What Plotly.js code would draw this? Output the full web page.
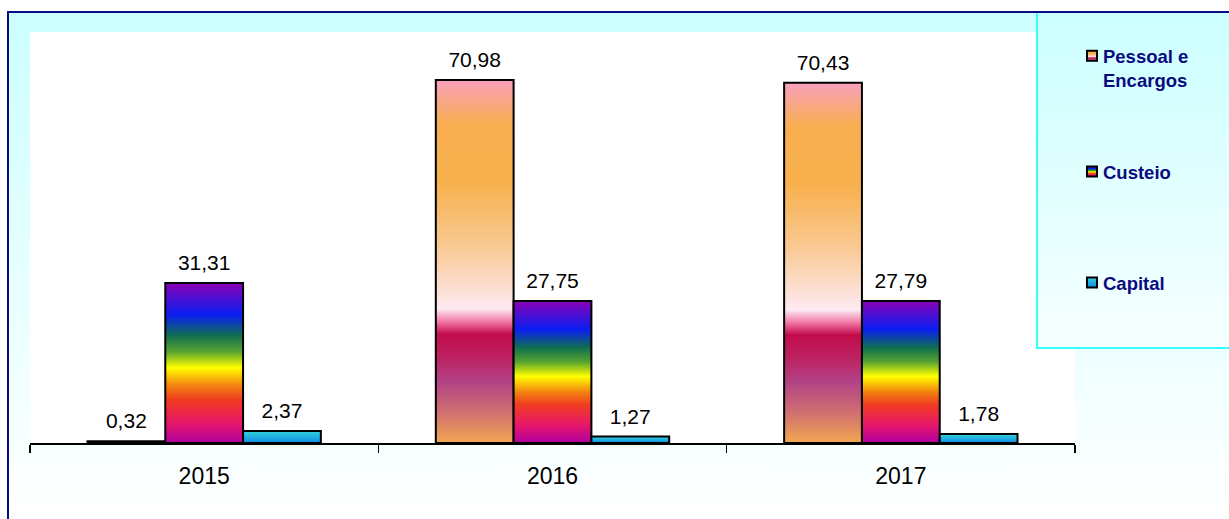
<!DOCTYPE html>
<html><head><meta charset="utf-8">
<script src="https://cdn.plot.ly/plotly-3.0.1.min.js"></script>
<style>
html,body{margin:0;padding:0;background:#fff;width:1229px;height:519px;overflow:hidden;}
#bg{position:absolute;left:8px;top:12px;width:1221px;height:507px;background:linear-gradient(#CCFFFF,#FFFFFF);}
#chart{position:absolute;left:0;top:0;width:1229px;height:519px;}
#frame{position:absolute;left:7px;top:11px;width:1230px;height:520px;border-left:2px solid #0A0A80;border-top:2px solid #0A0A80;pointer-events:none;z-index:10;}
</style></head>
<body>
<div id="bg"></div>
<div id="chart"></div>
<div id="frame"></div>
<script>
// ---- data ----
const years = ['2015', '2016', '2017'];
const seriesNames = ['Pessoal e<br>Encargos', 'Custeio', 'Capital'];
const pessoal = [0.32, 70.98, 70.43];
const custeio = [31.31, 27.75, 27.79];
const capital = [2.37, 1.27, 1.78];

// ---- styles ----
const FONT = 'Arial, "Liberation Sans", sans-serif';
const gradients = {
  'g-pessoal': [[0,'#F9A0BC'],[0.12,'#F8AE50'],[0.28,'#F8B04C'],[0.45,'#F9C890'],[0.56,'#FCDCCA'],[0.63,'#FDEAF2'],[0.665,'#F27AA8'],[0.70,'#C20C4C'],[0.76,'#BE2060'],[0.83,'#B24286'],[0.92,'#D27270'],[1,'#F2A850']],
  'g-custeio': [[0,'#8A00B4'],[0.2,'#0A1EF2'],[0.33,'#107050'],[0.43,'#58A430'],[0.53,'#FFFF00'],[0.64,'#F28410'],[0.73,'#F03C20'],[0.87,'#E81868'],[1,'#B000A0']],
  'g-capital': [[0,'#30D6DC'],[1,'#1088E4']],
  'g-legend': [[0,'#CCFFFF'],[1,'#F6FFFF']]
};
const traceGrad = ['g-pessoal', 'g-custeio', 'g-capital'];
const flatColors = ['#F8B048', '#F0C000', '#20B0E0'];
const seriesValues = [pessoal, custeio, capital];
const legendIds = ['legend', 'legend2', 'legend3'];

const traces = seriesValues.map((vals, i) => ({
  type: 'bar', name: seriesNames[i], x: years, y: vals,
  marker: {color: flatColors[i], line: {color: '#000', width: 2}},
  texttemplate: '%{y:.2f}', textposition: 'outside',
  textfont: {size: 21, color: '#000', family: FONT},
  cliponaxis: false, hoverinfo: 'skip', legend: legendIds[i], showlegend: true
}));

const legBase = {visible: true, x: 0.9885, xanchor: 'left', yanchor: 'middle', bgcolor: 'rgba(0,0,0,0)', borderwidth: 0,
  font: {size: 18.5, color: '#0A0A80', family: FONT, weight: 'bold'}, valign: 'top'};

const layout = {
  width: 1229, height: 519,
  showlegend: true,
  margin: {l: 30, r: 154, t: 32, b: 76, pad: 0},
  paper_bgcolor: 'rgba(0,0,0,0)', plot_bgcolor: '#FFFFFF',
  separators: ',.',
  barmode: 'group', bargap: 0.33, bargroupgap: 0,
  font: {family: FONT, color: '#000'},
  xaxis: {type: 'category', tickson: 'boundaries', ticks: 'outside', ticklen: 8, tickwidth: 1.5, tickcolor: '#000',
    showline: true, linecolor: '#000', linewidth: 2, showgrid: false, zeroline: false,
    tickfont: {size: 23, color: '#000', family: FONT}, ticklabelstandoff: 11, fixedrange: true},
  yaxis: {range: [0, 80.37], visible: false, fixedrange: true},
  legend: Object.assign({}, legBase, {y: 0.912}),
  legend2: Object.assign({}, legBase, {y: 0.6594}),
  legend3: Object.assign({}, legBase, {y: 0.3893}),
  shapes: [{type: 'rect', xref: 'paper', yref: 'paper', x0: 0.9636, x1: 1.3, y0: 0.2311, y1: 1.0487,
    line: {color: '#33FFFF', width: 2}, fillcolor: '#E4FFFF', layer: 'above'}]
};

const gd = document.getElementById('chart');
const SVGNS = 'http://www.w3.org/2000/svg';

function ensureGradients() {
  if (document.getElementById('g-pessoal')) return;
  const svg = gd.querySelector('svg.main-svg');
  let defs = svg.querySelector('defs');
  if (!defs) { defs = document.createElementNS(SVGNS, 'defs'); svg.insertBefore(defs, svg.firstChild); }
  Object.keys(gradients).forEach(id => {
    const lg = document.createElementNS(SVGNS, 'linearGradient');
    lg.setAttribute('id', id);
    lg.setAttribute('x1', '0'); lg.setAttribute('y1', '0');
    lg.setAttribute('x2', '0'); lg.setAttribute('y2', '1');
    gradients[id].forEach(([o, c]) => {
      const st = document.createElementNS(SVGNS, 'stop');
      st.setAttribute('offset', o); st.setAttribute('stop-color', c);
      lg.appendChild(st);
    });
    defs.appendChild(lg);
  });
}

function applyStyles() {
  ensureGradients();
  gd.querySelectorAll('g.barlayer g.trace.bars').forEach((tr, i) => {
    tr.querySelectorAll('path').forEach(p => { p.style.fill = 'url(#' + traceGrad[i] + ')'; });
    tr.querySelectorAll('text').forEach(t => {
      if (t.dataset.shifted) return;
      const tf = t.getAttribute('transform') || '';
      t.setAttribute('transform', 'translate(0,-6) ' + tf);
      t.dataset.shifted = '1';
    });
  });
  legendIds.forEach((lid, i) => {
    gd.querySelectorAll('g.' + lid + ' .legendpoints path').forEach(p => {
      p.style.fill = 'url(#' + traceGrad[i] + ')';
      if (!p.dataset.moved) {
        p.setAttribute('d', 'M5,5H-5V-5H5Z');
        const tf = p.getAttribute('transform') || '';
        p.setAttribute('transform', 'translate(9,0) ' + tf);
        p.dataset.moved = '1';
      }
    });
  });
  gd.querySelectorAll('.shapelayer path').forEach(p => { p.style.fill = 'url(#g-legend)'; p.style.fillOpacity = 1; });
}

Plotly.newPlot(gd, traces, layout, {displayModeBar: false, staticPlot: true}).then(applyStyles);
gd.on && gd.on('plotly_afterplot', applyStyles);
</script>
</body></html>
